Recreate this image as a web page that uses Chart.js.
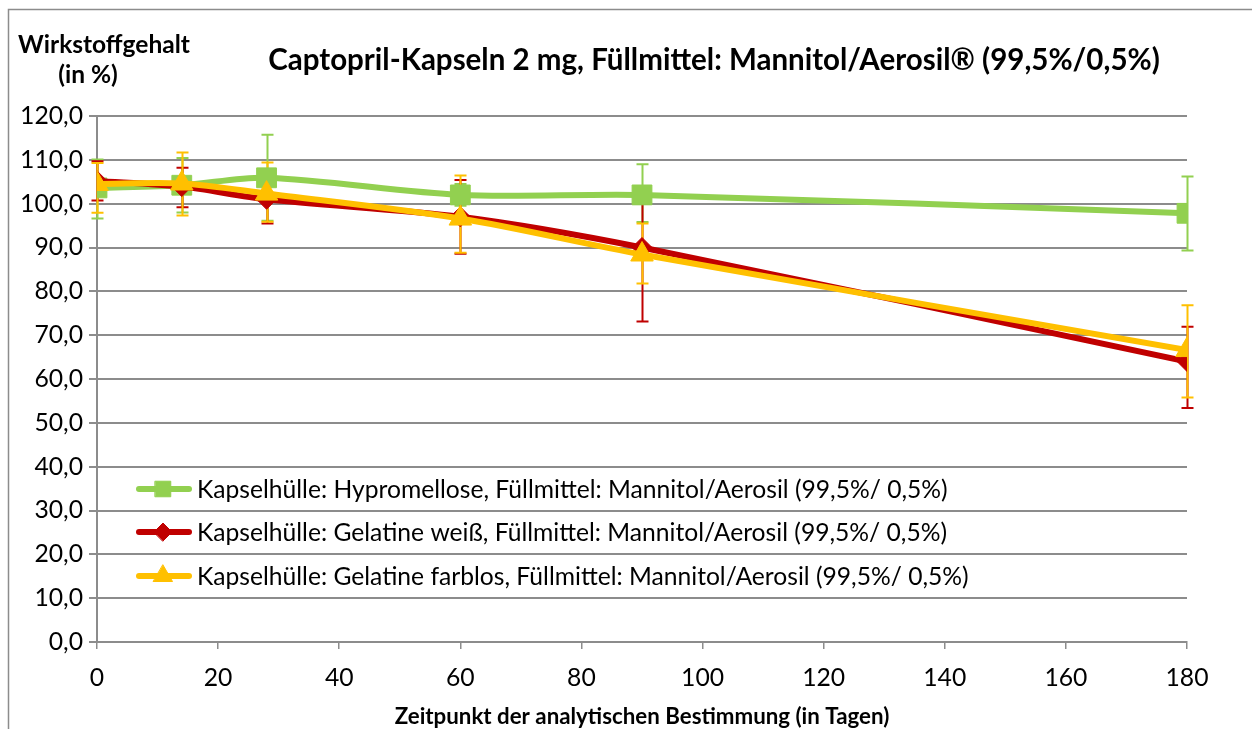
<!DOCTYPE html>
<html>
<head>
<meta charset="utf-8">
<script src="https://cdn.jsdelivr.net/npm/chart.js@4.4.1/dist/chart.umd.min.js"></script>
<style>
  html, body { margin: 0; padding: 0; background: #fff; }
  #wrap { width: 1252px; height: 729px; }
</style>
</head>
<body>
<div id="wrap"><canvas id="chart"></canvas></div>
<script>
const days = [0, 14, 28, 60, 90, 180];
const seriesNames = [
  "Kapselhülle: Hypromellose, Füllmittel: Mannitol/Aerosil (99,5%/ 0,5%)",
  "Kapselhülle: Gelatine weiß, Füllmittel: Mannitol/Aerosil (99,5%/ 0,5%)",
  "Kapselhülle: Gelatine farblos, Füllmittel: Mannitol/Aerosil (99,5%/ 0,5%)"
];
const hypromellose = [103.6, 104.2, 105.9, 102.0, 102.0, 97.8];
const hypromellosePlus = [6.5, 6.2, 9.8, 2.5, 7.0, 8.4];
const hypromelloseMinus = [7.0, 6.2, 9.8, 2.5, 6.2, 8.5];
const gelatineWeiss = [105.2, 103.9, 101.0, 97.0, 90.0, 64.0];
const gelatineWeissPlus = [4.5, 4.3, 5.5, 8.4, 14.0, 7.9];
const gelatineWeissMinus = [4.5, 4.7, 5.5, 8.4, 16.9, 10.6];
const gelatineFarblos = [104.5, 104.6, 102.3, 96.6, 88.4, 66.6];
const gelatineFarblosPlus = [4.8, 7.1, 7.1, 9.8, 7.1, 10.2];
const gelatineFarblosMinus = [6.6, 7.3, 6.4, 7.8, 6.6, 10.8];
const colors = ["#92D050", "#C00000", "#FFC000"];

const FONT = "Lato";
const measureCtx = document.createElement("canvas").getContext("2d");
function fitSize(text, weight, width) {
  measureCtx.font = weight + " 100px " + FONT;
  return 100 * width / measureCtx.measureText(text).width;
}
const tickSize = fitSize("120,0", "normal", 63);
const legendSize = fitSize(seriesNames[0], "normal", 751);
const titleText = "Captopril-Kapseln 2 mg, Füllmittel: Mannitol/Aerosil® (99,5%/0,5%)";
const titleSize = fitSize(titleText, "bold", 892);
const xTitle = "Zeitpunkt der analytischen Bestimmung (in Tagen)";
const xTitleSize = fitSize(xTitle, "bold", 495);
const yTitleSize = fitSize("Wirkstoffgehalt", "bold", 172);

function points(vals) {
  return days.map((d, i) => ({ x: d, y: vals[i] }));
}

// vertical error bars with caps, drawn under the lines
const errorBars = {
  id: "errorBars",
  beforeDatasetsDraw(chart) {
    const { ctx, scales: { x, y } } = chart;
    chart.data.datasets.forEach(ds => {
      ctx.save();
      ctx.strokeStyle = ds.borderColor;
      ctx.lineWidth = 2;
      ds.data.forEach((p, j) => {
        const px = Math.round(x.getPixelForValue(p.x)) + 0.5;
        const top = y.getPixelForValue(p.y + ds.errPlus[j]);
        const bot = y.getPixelForValue(p.y - ds.errMinus[j]);
        ctx.beginPath();
        ctx.moveTo(px, top); ctx.lineTo(px, bot);
        ctx.moveTo(px - 6, top); ctx.lineTo(px + 6, top);
        ctx.moveTo(px - 6, bot); ctx.lineTo(px + 6, bot);
        ctx.stroke();
      });
      ctx.restore();
    });
  }
};

const decorations = {
  id: "decorations",
  beforeDraw(chart) {
    const ctx = chart.ctx;
    ctx.save();
    ctx.fillStyle = "#fff";
    ctx.fillRect(0, 0, chart.width, chart.height);
    ctx.strokeStyle = "#8c8c8c";
    ctx.lineWidth = 1.5;
    ctx.beginPath();
    ctx.moveTo(8.5, 729); ctx.lineTo(8.5, 9.5); ctx.lineTo(1252, 9.5);
    ctx.stroke();
    ctx.restore();
  },
  afterDraw(chart) {
    const ctx = chart.ctx;
    ctx.save();
    ctx.fillStyle = "#000";
    ctx.textAlign = "center";
    ctx.textBaseline = "middle";
    ctx.font = "bold " + titleSize + "px " + FONT;
    ctx.fillText(titleText, 714, 60);
    ctx.font = "bold " + yTitleSize + "px " + FONT;
    ctx.fillText("Wirkstoffgehalt", 104, 45);
    ctx.fillText("(in %)", 88, 75);
    ctx.font = "bold " + xTitleSize + "px " + FONT;
    ctx.fillText(xTitle, 642, 717);

    // legend inside the plot, no box
    const rows = [489, 532, 576];
    chart.data.datasets.forEach((ds, i) => {
      const yy = rows[i];
      ctx.strokeStyle = ds.borderColor;
      ctx.fillStyle = ds.borderColor;
      ctx.lineWidth = 6;
      ctx.lineCap = "round";
      ctx.beginPath();
      ctx.moveTo(139, yy); ctx.lineTo(189, yy);
      ctx.stroke();
      ctx.lineWidth = 1;
      Chart.helpers.drawPoint(ctx, { pointStyle: ds.pointStyle, radius: ds.legendRadius, borderWidth: 1 }, 163, yy);
      ctx.fillStyle = "#000";
      ctx.textAlign = "left";
      ctx.font = legendSize + "px " + FONT;
      ctx.fillText(seriesNames[i], 197, yy + 1);
    });
    ctx.restore();
  }
};

function makeDataset(i, vals, plus, minus, style, radius, legendRadius) {
  return {
    label: seriesNames[i],
    data: points(vals),
    errPlus: plus,
    errMinus: minus,
    borderColor: colors[i],
    backgroundColor: colors[i],
    pointBackgroundColor: colors[i],
    pointBorderColor: colors[i],
    borderWidth: 6,
    borderJoinStyle: "round",
    borderCapStyle: "round",
    tension: 0.3,
    pointStyle: style,
    pointRadius: radius,
    legendRadius: legendRadius,
    pointBorderWidth: 1,
    order: 3 - i
  };
}

const datasets = [
  makeDataset(0, hypromellose, hypromellosePlus, hypromelloseMinus, "rect", 14, 11),
  makeDataset(1, gelatineWeiss, gelatineWeissPlus, gelatineWeissMinus, "rectRot", 10, 9),
  makeDataset(2, gelatineFarblos, gelatineFarblosPlus, gelatineFarblosMinus, "triangle", 13, 11)
];

new Chart(document.getElementById("chart"), {
  type: "line",
  data: { datasets: datasets },
  options: {
    responsive: true,
    maintainAspectRatio: false,
    animation: false,
    layout: { padding: { left: 0, top: 116, right: 65, bottom: 0 } },
    plugins: { legend: { display: false }, tooltip: { enabled: false }, title: { display: false } },
    scales: {
      x: {
        type: "linear",
        min: 0, max: 180,
        afterFit(scale) { scale.height = 87; },
        ticks: { stepSize: 20, color: "#000", padding: 14, font: { family: FONT, size: tickSize } },
        grid: { drawOnChartArea: false, drawTicks: true, tickLength: 7, color: "#8c8c8c", lineWidth: 1.5 },
        border: { display: true, color: "#8c8c8c", width: 2 }
      },
      y: {
        min: 0, max: 120,
        afterFit(scale) { scale.width = 97; },
        ticks: {
          stepSize: 10, color: "#000", padding: 6,
          font: { family: FONT, size: tickSize },
          callback: v => v.toFixed(1).replace(".", ",")
        },
        grid: { color: "#8c8c8c", lineWidth: 2, tickLength: 8 },
        border: { display: true, color: "#8c8c8c", width: 2 }
      }
    }
  },
  plugins: [errorBars, decorations]
});
</script>
</body>
</html>
